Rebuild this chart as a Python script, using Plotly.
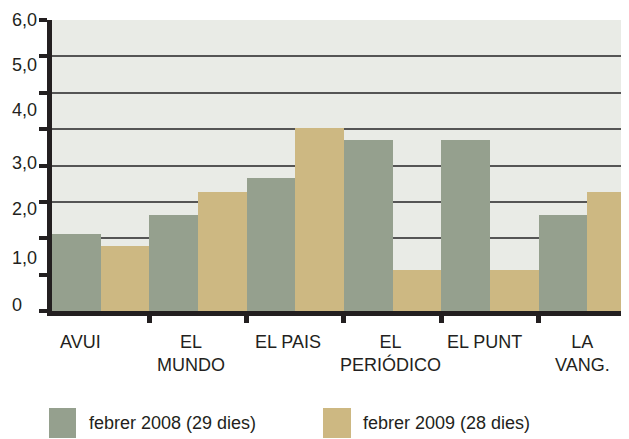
import plotly.graph_objects as go

# ---------------- data ----------------
categories = ["AVUI", "EL<br>MUNDO", "EL PAIS", "EL<br>PERIÓDICO", "EL PUNT", "LA<br>VANG."]
feb_2008 = [1.59, 1.98, 2.74, 3.53, 3.53, 1.98]
feb_2009 = [1.34, 2.45, 3.77, 0.85, 0.85, 2.45]
series_names = ["febrer 2008 (29 dies)", "febrer 2009 (28 dies)"]
y_tick_labels = ["0", "1,0", "2,0", "3,0", "4,0", "5,0", "6,0"]
y_grid_values = [0, 0.75, 1.5, 2.25, 3.0, 3.75, 4.5, 5.25, 6.0]

# ---------------- layout constants ----------------
OFF = 8                     # page body margin
W, H = 629 - OFF, 439 - OFF
L, R, T = 52 - OFF, 0, 20 - OFF
BOTTOM = 311 - OFF          # plot bottom in figure px
B = H - BOTTOM
PW, PH = W - L - R, H - T - B
CAT_PX = 97.3               # pixel width of one category
Y_MAX = 6.0


def px(x):   # page px -> paper x
    return (x - OFF - L) / PW


def py(y):   # page px -> paper y
    return (BOTTOM - (y - OFF)) / PH


def pyv(y):  # page px -> y data
    return py(y) * Y_MAX


def pxv(x):  # page px -> x data
    return (x - OFF - L) / CAT_PX - 0.5


C08 = "#95a08e"
C09 = "#cdb882"
INK = "#231f20"
BG = "#e9ebe6"
FONT = "Liberation Sans, Arial, sans-serif"
FS = 18

# positions where the (hand-placed) labels sit in the original (page px)
x_label_px = [80, 191, 288, 390, 484, 582]
y_label_px = [305, 258, 209, 163, 110, 65, 20]

idx = list(range(len(categories)))

fig = go.Figure()
fig.add_bar(x=idx, y=feb_2008, name=series_names[0],
            marker=dict(color=C08, line=dict(width=0)))
fig.add_bar(x=idx, y=feb_2009, name=series_names[1],
            marker=dict(color=C09, line=dict(width=0)))

annotations = []
for lab, xp in zip(categories, x_label_px):
    annotations.append(dict(text=lab, x=pxv(xp), xref="x", y=py(330), yref="paper",
                            xanchor="center", yanchor="top", showarrow=False,
                            font=dict(family=FONT, size=FS, color=INK), align="center"))
for lab, yp in zip(y_tick_labels, y_label_px):
    annotations.append(dict(text=lab, x=px(10), xref="paper", y=pyv(yp), yref="y",
                            xanchor="left", yanchor="middle", showarrow=False,
                            font=dict(family=FONT, size=FS, color=INK)))

# legend (custom, large swatches)
shapes = []
legend_items = [(series_names[0], C08, 49, 76, 87), (series_names[1], C09, 323, 351, 361)]
for name, col, x0, x1, xt in legend_items:
    shapes.append(dict(type="rect", xref="paper", yref="paper",
                       x0=px(x0), x1=px(x1), y0=py(438), y1=py(408),
                       fillcolor=col, line=dict(width=0), layer="above"))
    annotations.append(dict(text=name, x=px(xt), xref="paper", y=py(423), yref="paper",
                            xanchor="left", yanchor="middle", showarrow=False,
                            font=dict(family=FONT, size=FS, color=INK)))

fig.update_layout(
    width=W, height=H,
    margin=dict(l=L, r=R, t=T, b=B, pad=0),
    paper_bgcolor="white", plot_bgcolor=BG,
    barmode="group", bargap=0, bargroupgap=0,
    showlegend=False,
    annotations=annotations, shapes=shapes,
    xaxis=dict(range=[-0.5, -0.5 + PW / CAT_PX], showgrid=False, zeroline=False,
               showline=True, linewidth=5, linecolor=INK,
               tickvals=[i + 0.5 for i in idx[:-1]], ticks="outside", ticklen=7,
               tickwidth=5, tickcolor=INK, showticklabels=False, fixedrange=True),
    yaxis=dict(range=[0, Y_MAX], tickvals=y_grid_values, showgrid=True,
               gridcolor="#555555", gridwidth=1.5, zeroline=False,
               showline=True, linewidth=5, linecolor=INK,
               ticks="outside", ticklen=8, tickwidth=4, tickcolor=INK,
               showticklabels=False, fixedrange=True),
)

fig.write_html("out.html")
